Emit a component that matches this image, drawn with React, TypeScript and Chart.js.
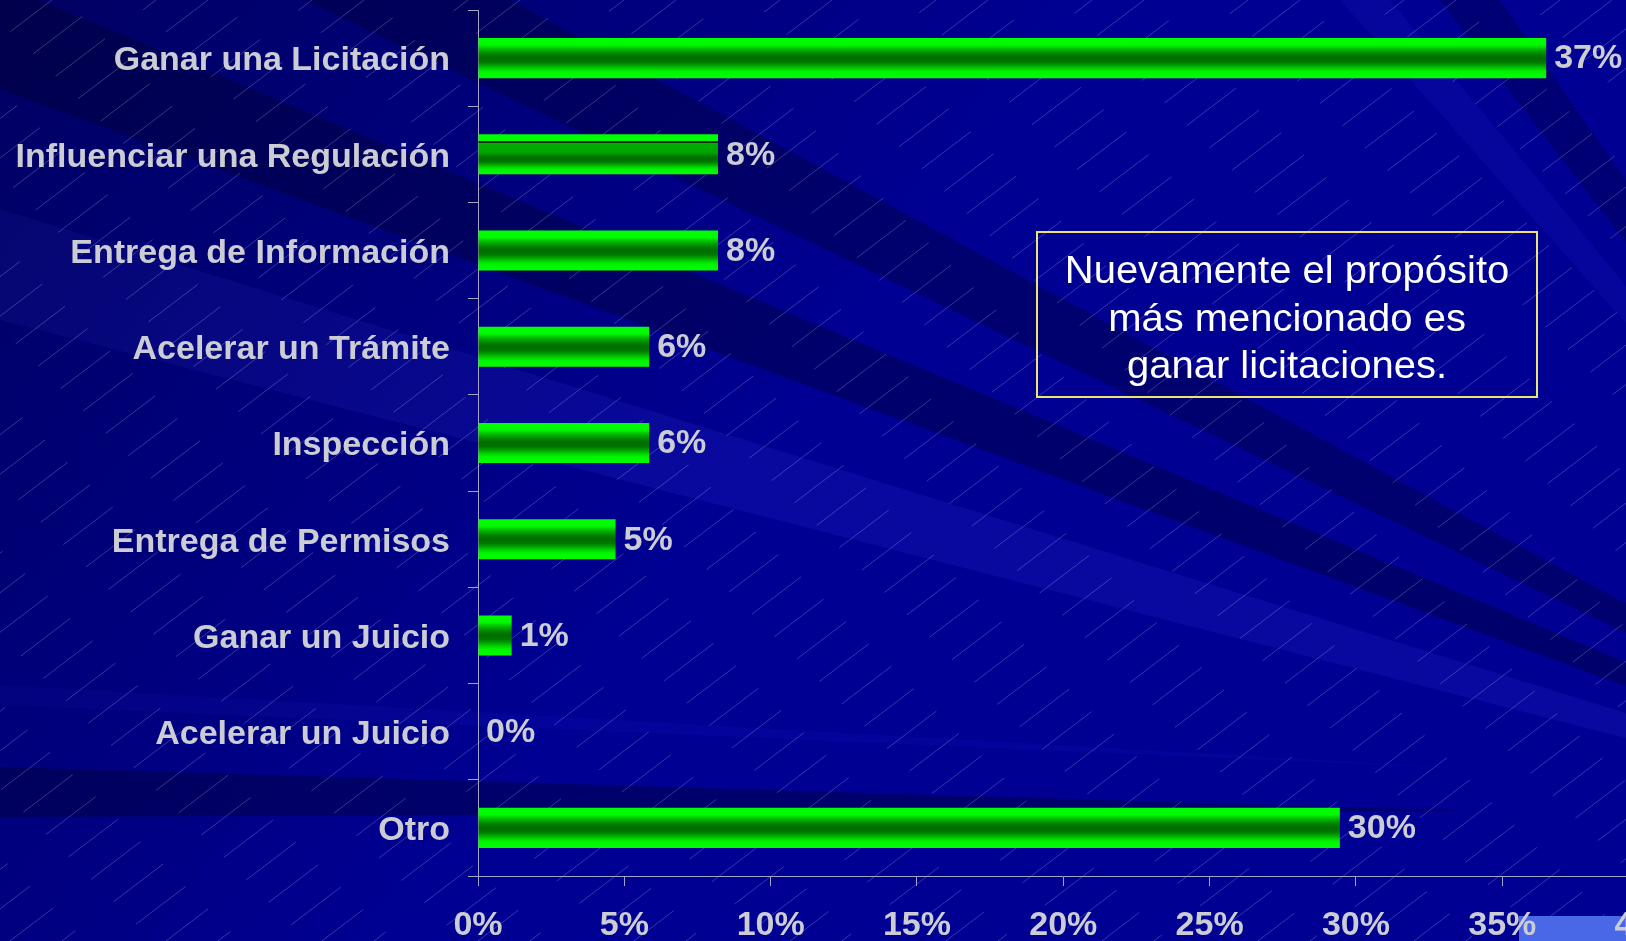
import React, { useEffect, useRef } from 'react';
import { Chart, registerables } from 'chart.js';

Chart.register(...registerables);

// ---- data ----
const categories = [
  'Ganar una Licitación',
  'Influenciar una Regulación',
  'Entrega de Información',
  'Acelerar un Trámite',
  'Inspección',
  'Entrega de Permisos',
  'Ganar un Juicio',
  'Acelerar un Juicio',
  'Otro',
];
const values = [36.5, 8.2, 8.2, 5.85, 5.85, 4.7, 1.15, 0, 29.45];
const valueLabels = ['37%', '8%', '8%', '6%', '6%', '5%', '1%', '0%', '30%'];
const xTickValues = [0, 5, 10, 15, 20, 25, 30, 35, 40];
const noteLines = ['Nuevamente el propósito', 'más mencionado es', 'ganar licitaciones.'];

// ---- look ----
const FONT = "Arial, 'Liberation Sans', sans-serif";
const TEXT_GRAY = 'rgb(204,204,212)';
const AXIS_COLOR = '#a4a4c4';
const BAR_PCT = 0.416;
const CANVAS_W = 1700;
const CANVAS_H = 941;

const backgroundPlugin = {
  id: 'slideBackground',
  beforeDraw(chart: any) {
    const { ctx, width: W, height: H } = chart;
    ctx.save();
    ctx.fillStyle = '#000092';
    ctx.fillRect(0, 0, W, H);

    const F: [number, number] = [2100, 860];
    const polys: { pts: [number, number][]; color: string }[] = [
      { pts: [F, [0, -16], [0, 89]], color: '#00006c' },
      { pts: [F, [305, 0], [510, 0]], color: '#00006e' },
      { pts: [F, [0, 209], [0, 320]], color: '#0909a0' },
      { pts: [F, [1340, 0], [1390, 0]], color: '#06069c' },
      { pts: [F, [1440, 0], [1500, 0]], color: '#000074' },
      { pts: [[0, 685], [1500, 770], [0, 705]], color: '#04049a' },
      { pts: [[0, 767], [1470, 811], [0, 817]], color: '#00006c' },
    ];
    polys.forEach((p) => {
      ctx.beginPath();
      p.pts.forEach(([x, y], i) => (i ? ctx.lineTo(x, y) : ctx.moveTo(x, y)));
      ctx.closePath();
      ctx.fillStyle = p.color;
      ctx.fill();
    });

    const g = ctx.createLinearGradient(0, 0, 700, 520);
    g.addColorStop(0, 'rgba(0,0,40,0.45)');
    g.addColorStop(1, 'rgba(0,0,40,0)');
    ctx.fillStyle = g;
    ctx.fillRect(0, 0, W, H);

    // thin dashed diagonal texture
    ctx.strokeStyle = 'rgba(180,180,235,0.30)';
    ctx.lineWidth = 1;
    const slope = 0.76;
    let n = 0;
    for (let x0 = -H / slope; x0 < W; x0 += 52) {
      ctx.setLineDash([62, 48]);
      ctx.lineDashOffset = (n * 37) % 110;
      ctx.beginPath();
      ctx.moveTo(x0, H);
      ctx.lineTo(x0 + H / slope, 0);
      ctx.stroke();
      n++;
    }
    ctx.setLineDash([]);

    // slide footer strip
    ctx.fillStyle = '#4868e8';
    ctx.fillRect(1519, 916, 107, 25);
    ctx.restore();
  },
};

const valueLabelPlugin = {
  id: 'valueLabels',
  afterDatasetsDraw(chart: any) {
    const { ctx } = chart;
    const meta = chart.getDatasetMeta(0);
    ctx.save();
    ctx.font = `bold 34px ${FONT}`;
    ctx.fillStyle = TEXT_GRAY;
    ctx.textAlign = 'left';
    ctx.textBaseline = 'middle';
    meta.data.forEach((bar: any, i: number) => {
      ctx.fillText(valueLabels[i], bar.x + 8, bar.y + 1);
    });
    ctx.restore();
  },
};

const notePlugin = {
  id: 'noteBox',
  afterDraw(chart: any) {
    const { ctx } = chart;
    const box = { x: 1037, y: 232, w: 500, h: 165 };
    ctx.save();
    ctx.strokeStyle = '#ece474';
    ctx.lineWidth = 2;
    ctx.strokeRect(box.x, box.y, box.w, box.h);
    ctx.fillStyle = '#ffffff';
    ctx.font = `39px ${FONT}`;
    ctx.textAlign = 'center';
    ctx.textBaseline = 'alphabetic';
    const cx = box.x + box.w / 2;
    noteLines.forEach((line, i) => {
      ctx.save();
      ctx.translate(cx, box.y + 51 + i * 47.7);
      ctx.scale(1.025, 1);
      ctx.fillText(line, 0, 0);
      ctx.restore();
    });
    ctx.restore();
  },
};

function barFill(context: any) {
  const chart = context.chart;
  const yScale = chart.scales?.y;
  if (!chart.chartArea || !yScale || context.dataIndex === undefined) return '#00ff00';
  const c = chart.ctx;
  const yc = yScale.getPixelForValue(context.dataIndex);
  const step = Math.abs(yScale.getPixelForValue(1) - yScale.getPixelForValue(0));
  const h = step * BAR_PCT;
  const top = yc - h / 2;
  const g = c.createLinearGradient(0, top, 0, top + h);
  const stops: [number, string][] = [
    [0, '#00ff00'],
    [0.17, '#00fa00'],
    [0.24, '#00d000'],
    [0.32, '#00a200'],
    [0.42, '#007e00'],
    [0.5, '#006c00'],
    [0.6, '#007800'],
    [0.68, '#00a000'],
    [0.76, '#00d000'],
    [0.84, '#00f400'],
    [1, '#00ff00'],
  ];
  if (context.dataIndex === 1) {
    g.addColorStop(0, '#00ff00');
    g.addColorStop(0.175, '#00ff00');
    g.addColorStop(0.18, '#002800');
    g.addColorStop(0.205, '#002800');
    g.addColorStop(0.21, '#00b000');
    stops.slice(3).forEach(([o, col]) => g.addColorStop(0.21 + o * 0.79, col));
  } else {
    stops.forEach(([o, col]) => g.addColorStop(o, col));
  }
  return g;
}

export default function App() {
  const ref = useRef<HTMLCanvasElement | null>(null);

  useEffect(() => {
    document.documentElement.style.overflow = 'hidden';
    document.body.style.overflow = 'hidden';
    document.body.style.margin = '0';
    const canvas = ref.current;
    if (!canvas) return;
    const chart = new Chart(canvas, {
      type: 'bar',
      data: {
        labels: categories,
        datasets: [
          {
            data: values,
            backgroundColor: barFill as any,
            borderWidth: 0,
            barPercentage: BAR_PCT,
            categoryPercentage: 1,
          },
        ],
      },
      options: {
        indexAxis: 'y',
        responsive: false,
        animation: false,
        devicePixelRatio: 1,
        layout: { padding: { top: 10, right: 51.4, left: 0, bottom: 0 } },
        plugins: {
          legend: { display: false },
          tooltip: { enabled: false },
          title: { display: false },
        },
        scales: {
          x: {
            type: 'linear',
            min: 0,
            max: 40,
            afterBuildTicks: (scale: any) => {
              scale.ticks = xTickValues.map((v) => ({ value: v }));
            },
            afterFit: (scale: any) => {
              scale.height = CANVAS_H - 876;
              scale.paddingLeft = 0;
              scale.paddingRight = 0;
            },
            grid: {
              display: true,
              drawOnChartArea: false,
              drawTicks: true,
              tickLength: 10,
              color: AXIS_COLOR,
              lineWidth: 1,
            },
            border: { display: true, color: AXIS_COLOR, width: 1 },
            ticks: {
              color: TEXT_GRAY,
              font: { family: FONT, size: 34, weight: 'bold' },
              padding: 19,
              maxRotation: 0,
              autoSkip: false,
              callback: (v: any) => `${v}%`,
            },
          },
          y: {
            type: 'category',
            afterFit: (scale: any) => {
              scale.width = 478;
              scale.paddingTop = 0;
              scale.paddingBottom = 0;
            },
            grid: {
              display: true,
              offset: true,
              drawOnChartArea: false,
              drawTicks: true,
              tickLength: 10,
              color: AXIS_COLOR,
              lineWidth: 1,
            },
            border: { display: true, color: AXIS_COLOR, width: 1 },
            ticks: {
              color: TEXT_GRAY,
              font: { family: FONT, size: 34, weight: 'bold' },
              padding: 18,
              labelOffset: 3,
              autoSkip: false,
            },
          },
        },
      },
      plugins: [backgroundPlugin, valueLabelPlugin, notePlugin],
    } as any);
    return () => chart.destroy();
  }, []);

  return (
    <div
      style={{
        position: 'fixed',
        left: 0,
        top: 0,
        width: CANVAS_W,
        height: CANVAS_H,
        overflow: 'hidden',
        background: '#000092',
      }}
    >
      <canvas ref={ref} width={CANVAS_W} height={CANVAS_H} style={{ display: 'block' }} />
    </div>
  );
}
